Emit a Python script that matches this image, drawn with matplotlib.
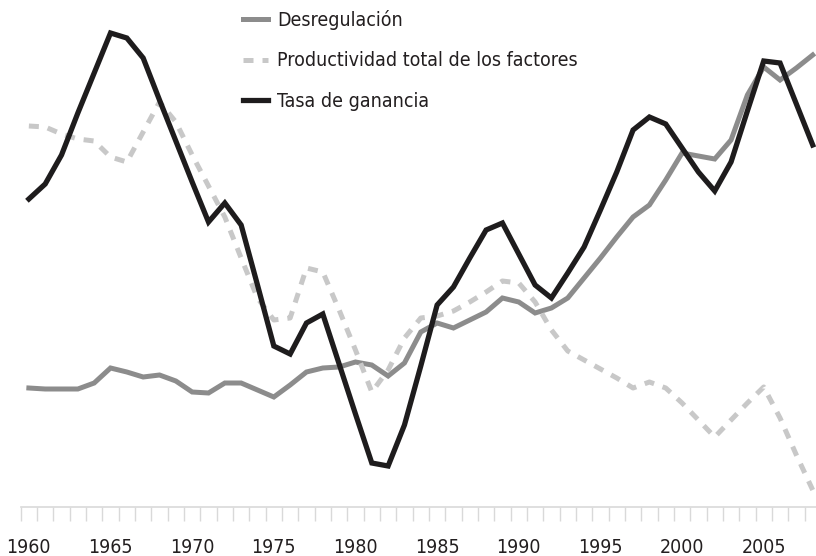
import matplotlib
matplotlib.use("Agg")
import matplotlib.pyplot as plt
import numpy as np

plt.rcParams['font.family'] = ['Liberation Sans Narrow', 'DejaVu Sans']
plt.rcParams['font.stretch'] = 'condensed'

# Años
anios = list(range(1960, 2009))

# Índices (unidades arbitrarias)
desregulacion = [119, 118, 118, 118, 124, 139, 135, 130, 132, 126,
                 115, 114, 124, 124, 117, 110, 122, 135, 139, 140,
                 145, 142, 131, 144, 175, 184, 179, 187, 195, 209,
                 205, 194, 199, 209, 229, 249, 270, 290, 302, 327,
                 354, 351, 348, 367, 412, 440, 427, 439, 452]

productividad = [381, 380, 373, 368, 366, 350, 345, 375, 405, 385,
                 352, 321, 290, 249, 209, 187, 189, 239, 235, 197,
                 157, 115, 137, 169, 189, 191, 196, 205, 215, 226,
                 224, 205, 177, 156, 147, 138, 129, 119, 125, 119,
                 104, 87, 70, 87, 104, 120, 89, 52, 17]

tasa_ganancia = [308, 323, 352, 394, 434, 474, 469, 449, 407, 366,
                 325, 285, 304, 282, 222, 161, 153, 184, 193, 143,
                 93, 44, 41, 82, 141, 202, 220, 249, 277, 284,
                 253, 222, 209, 234, 260, 297, 335, 377, 390, 383,
                 359, 335, 316, 345, 396, 446, 444, 403, 362]

etiquetas = ['Desregulación', 'Productividad total de los factores', 'Tasa de ganancia']

fig = plt.figure(figsize=(8.16, 5.56), dpi=100)
ax = fig.add_axes([20.7 / 816, 49 / 556, 1 - 20.7 / 816, 507 / 556])

lw = 3.6
l1, = ax.plot(anios, desregulacion, color='#8c8c8c', lw=lw, solid_joinstyle='miter', zorder=2)
l2, = ax.plot(anios, productividad, color='#c8c8c8', lw=lw, linestyle=(0, (2.0, 1.8)),
              dash_capstyle='butt', zorder=3)
l3, = ax.plot(anios, tasa_ganancia, color='#1e1c1d', lw=lw * 1.05, solid_joinstyle='miter', zorder=4)

ax.set_xlim(1959.5, 1959.5 + (816 - 20.7) / 16.33)
ax.set_ylim(0, 507)

for s in ['top', 'right', 'left']:
    ax.spines[s].set_visible(False)
ax.spines['bottom'].set_color('#d9d9d9')
ax.spines['bottom'].set_linewidth(1.2)
ax.set_yticks([])

ax.set_xticks(range(1960, 2006, 5))
ax.set_xticklabels([str(a) for a in range(1960, 2006, 5)], fontsize=14, color='#231f20')
ax.tick_params(axis='x', which='major', length=0, pad=22.5)
ax.set_xticks(np.arange(1959.5, 2008, 1), minor=True)
ax.tick_params(axis='x', which='minor', length=10, width=1, color='#d9d9d9')

leg = ax.legend([l1, l2, l3], etiquetas, loc='upper left', bbox_to_anchor=(243 / 816, 1.0 - 10 / 556),
                bbox_transform=fig.transFigure, frameon=False, fontsize=14,
                handlelength=1.3, handletextpad=0.45, labelspacing=1.1, borderaxespad=0,
                borderpad=0)
for t in leg.get_texts():
    t.set_color('#231f20')

fig.savefig('out.png', dpi=100)
